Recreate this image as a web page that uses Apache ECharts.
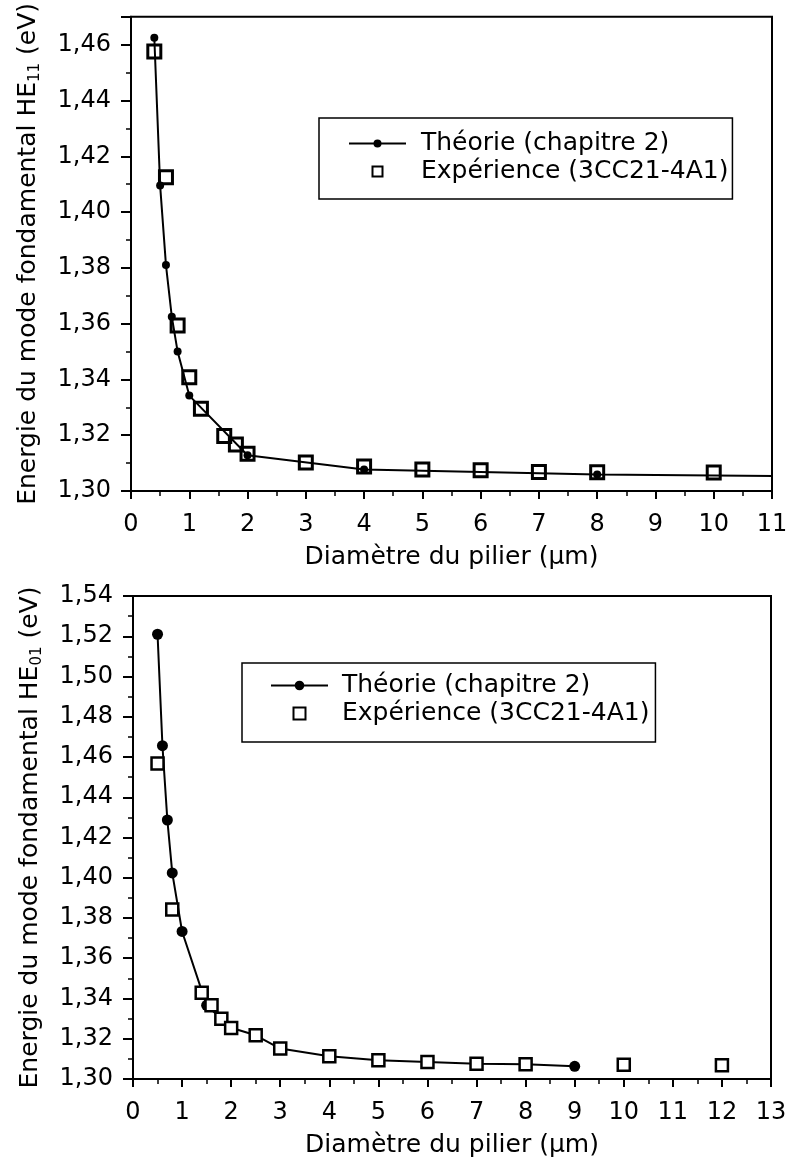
<!DOCTYPE html>
<html>
<head>
<meta charset="utf-8">
<script src="https://cdn.jsdelivr.net/npm/echarts@6/dist/echarts.min.js"></script>
<style>
  html, body { margin: 0; padding: 0; background: #fff; }
  #main { width: 795px; height: 1161px; }
</style>
</head>
<body>
<div id="main"></div>
<script>
// top plot: HE11
var theoryX1 = [0.4, 0.5, 0.6, 0.7, 0.8, 1.0, 2.0, 4.0, 8.0, 12];
var theoryY1 = [1.4625, 1.4095, 1.381, 1.3625, 1.350, 1.3342, 1.3128, 1.3077, 1.3059, 1.3052];
var expX1 = [0.4, 0.6, 0.8, 1.0, 1.2, 1.6, 1.8, 2.0, 3, 4, 5, 6, 7, 8, 10];
var expY1 = [1.4576, 1.4125, 1.3593, 1.3408, 1.3295, 1.3197, 1.3167, 1.3134, 1.3102, 1.3088, 1.3077, 1.3074, 1.3068, 1.3067, 1.3066];

// bottom plot: HE01
var theoryX2 = [0.5, 0.6, 0.7, 0.8, 1.0, 1.5, 2, 2.5, 3, 4, 5, 6, 7, 8, 9];
var theoryY2 = [1.521, 1.4656, 1.4287, 1.4024, 1.3733, 1.3366, 1.3255, 1.3217, 1.3151, 1.3113, 1.3093, 1.3084, 1.3076, 1.3073, 1.3063];
var expX2 = [0.5, 0.8, 1.4, 1.6, 1.8, 2.0, 2.5, 3, 4, 5, 6, 7, 8, 10, 12];
var expY2 = [1.4568, 1.3842, 1.3429, 1.3366, 1.330, 1.3253, 1.3217, 1.3151, 1.3113, 1.3093, 1.3084, 1.3076, 1.3073, 1.3071, 1.3068];

var nameTheory = 'Théorie (chapitre 2)';
var nameExp = 'Expérience (3CC21-4A1)';
var xName = 'Diamètre du pilier (µm)';

var FONT = 'DejaVu Sans';
var SQUARE = 'path://M0,0L10,0L10,10L0,10Z';

function pairs(xs, ys) {
    return xs.map(function (x, i) { return [x, ys[i]]; });
}

function yFmt(v) {
    var k = Math.round(v * 50);
    if (Math.abs(k - v * 50) > 1e-6) return '';
    return v.toFixed(2).replace('.', ',');
}

function xAxisOf(gi, max) {
    return {
        gridIndex: gi, type: 'value', min: 0, max: max, interval: 1,
        name: xName, nameLocation: 'middle', nameGap: 54,
        nameTextStyle: {fontFamily: FONT, fontSize: 25, color: '#000'},
        axisLine: {onZero: false, lineStyle: {color: '#000', width: 2}},
        axisTick: {length: 8, lineStyle: {color: '#000', width: 2}},
        minorTick: {show: true, splitNumber: 2, length: 5, lineStyle: {color: '#000', width: 1.5}},
        axisLabel: {fontFamily: FONT, fontSize: 24, color: '#000', margin: 22},
        splitLine: {show: false}
    };
}

function yAxisOf(gi, max, sub) {
    return {
        gridIndex: gi, type: 'value', min: 1.30, max: max, interval: 0.02,
        name: 'Energie du mode fondamental HE{sub|' + sub + '} (eV)',
        nameLocation: 'middle', nameGap: 88, nameRotate: 90,
        nameTextStyle: {
            fontFamily: FONT, fontSize: 25, color: '#000', lineHeight: 30,
            rich: {sub: {fontFamily: FONT, fontSize: 15, lineHeight: 15, verticalAlign: 'bottom', color: '#000'}}
        },
        axisLine: {onZero: false, lineStyle: {color: '#000', width: 2}},
        axisTick: {length: 10, lineStyle: {color: '#000', width: 2}},
        minorTick: {show: true, splitNumber: 2, length: 5, lineStyle: {color: '#000', width: 1.5}},
        axisLabel: {fontFamily: FONT, fontSize: 24, color: '#000', margin: 20, formatter: yFmt},
        splitLine: {show: false}
    };
}

function legendOf(left, top, iconH, pad, textPad) {
    return {
        left: left, top: top, orient: 'vertical',
        data: [{name: nameTheory}, {name: nameExp, icon: SQUARE}],
        itemWidth: 57, itemHeight: iconH, itemGap: 3,
        symbolKeepAspect: true,
        padding: pad,
        borderColor: '#000', borderWidth: 1.5, backgroundColor: '#fff',
        selectedMode: false,
        textStyle: {fontFamily: FONT, fontSize: 25, color: '#000', lineHeight: 24, padding: [0, 0, 0, textPad]}
    };
}

var mChart = echarts.init(document.getElementById('main'), null, {renderer: 'canvas'});

var option = {
    backgroundColor: '#fff',
    animation: false,
    grid: [
        {left: 131, top: 11, width: 641, height: 480, show: true, borderColor: '#000', borderWidth: 2, backgroundColor: '#fff'},
        {left: 133, top: 596, width: 638, height: 483, show: true, borderColor: '#000', borderWidth: 2, backgroundColor: '#fff'}
    ],
    xAxis: [xAxisOf(0, 11), xAxisOf(1, 13)],
    yAxis: [yAxisOf(0, 1.47, '11'), yAxisOf(1, 1.54, '01')],
    legend: [
        legendOf(319, 118, 10, [13, 4, 15, 29], 10),
        legendOf(242, 663, 12, [10, 6, 16, 28], 9)
    ],
    series: [
        {
            name: nameTheory, type: 'line', xAxisIndex: 0, yAxisIndex: 0,
            data: pairs(theoryX1, theoryY1),
            symbol: 'circle', symbolSize: 8, showAllSymbol: true, clip: true,
            lineStyle: {color: '#000', width: 2},
            itemStyle: {color: '#000'}, z: 3
        },
        {
            name: nameExp, type: 'scatter', xAxisIndex: 0, yAxisIndex: 0,
            data: pairs(expX1, expY1),
            symbol: 'rect', symbolSize: 13,
            itemStyle: {color: 'rgba(255,255,255,0)', borderColor: '#000', borderWidth: 3, opacity: 1}, z: 4
        },
        {
            name: nameTheory, type: 'line', xAxisIndex: 1, yAxisIndex: 1,
            data: pairs(theoryX2, theoryY2),
            symbol: 'circle', symbolSize: 11, showAllSymbol: true,
            lineStyle: {color: '#000', width: 2},
            itemStyle: {color: '#000'}, z: 3
        },
        {
            name: nameExp, type: 'scatter', xAxisIndex: 1, yAxisIndex: 1,
            data: pairs(expX2, expY2),
            symbol: 'rect', symbolSize: 12,
            itemStyle: {color: '#fff', borderColor: '#000', borderWidth: 2.5, opacity: 1}, z: 4
        }
    ]
};

mChart.setOption(option);
</script>
</body>
</html>
